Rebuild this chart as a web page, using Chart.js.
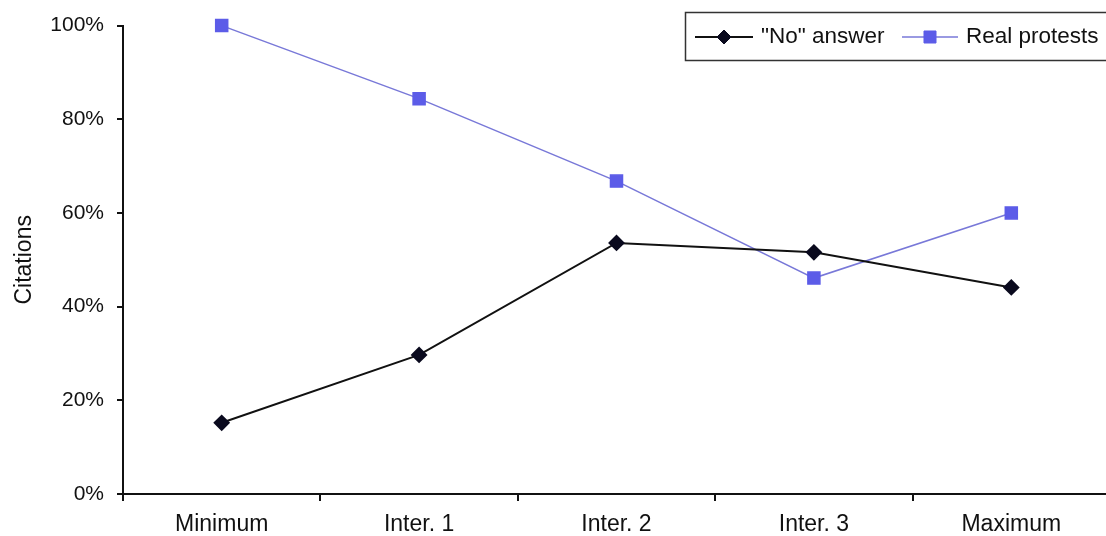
<!DOCTYPE html>
<html>
<head>
<meta charset="utf-8">
<script src="https://cdn.jsdelivr.net/npm/chart.js@4.4.1/dist/chart.umd.min.js"></script>
<style>
  html, body { margin: 0; padding: 0; background: #fff; overflow: hidden; }
  #wrap { width: 1120px; height: 536px; }
</style>
</head>
<body>
<div id="wrap"><canvas id="citeChart" width="1120" height="536"></canvas></div>
<script>
const categories = ['Minimum', 'Inter. 1', 'Inter. 2', 'Inter. 3', 'Maximum'];
const noAnswer = [15.2, 29.7, 53.6, 51.6, 44.1];
const realProtests = [100, 84.4, 66.8, 46.1, 60.0];
const yTicks = [0, 20, 40, 60, 80, 100];

const FONT = 'Liberation Sans, Arial, sans-serif';

// legend box drawn by hand: line sample with the marker in its middle
const boxLegend = {
  id: 'boxLegend',
  afterDraw(chart) {
    const ctx = chart.ctx;
    ctx.save();
    ctx.strokeStyle = '#333';
    ctx.lineWidth = 1.5;
    ctx.strokeRect(685.5, 12.5, 440, 48);
    ctx.font = '22.5px ' + FONT;
    ctx.textBaseline = 'middle';
    const y = 37;
    const items = [{ x0: 695, x1: 753 }, { x0: 902, x1: 958 }];
    items.forEach((it, i) => {
      const ds = chart.data.datasets[i];
      ctx.strokeStyle = ds.borderColor;
      ctx.lineWidth = ds.borderWidth;
      ctx.beginPath();
      ctx.moveTo(it.x0, y);
      ctx.lineTo(it.x1, y);
      ctx.stroke();
      ctx.fillStyle = ds.pointBackgroundColor;
      ctx.strokeStyle = ds.pointBorderColor;
      ctx.lineWidth = 1;
      Chart.helpers.drawPoint(ctx, {
        pointStyle: ds.pointStyle,
        radius: ds.pointRadius,
        borderWidth: 1
      }, (it.x0 + it.x1) / 2, y);
      ctx.fillStyle = '#111';
      ctx.fillText(ds.label, it.x1 + 8, y);
    });
    ctx.restore();
  }
};

new Chart(document.getElementById('citeChart'), {
  type: 'line',
  data: {
    labels: categories,
    datasets: [{
      label: '"No" answer',
      data: noAnswer,
      borderColor: '#111111',
      borderWidth: 2,
      pointStyle: 'rectRot',
      pointRadius: 7,
      pointBackgroundColor: '#0a0a1e',
      pointBorderColor: '#0a0a1e',
      tension: 0,
      clip: false
    }, {
      label: 'Real protests',
      data: realProtests,
      borderColor: '#7878d8',
      borderWidth: 1.5,
      pointStyle: 'rect',
      pointRadius: 8.5,
      pointBackgroundColor: '#5c5ce8',
      pointBorderColor: '#5c5ce8',
      tension: 0,
      clip: false
    }]
  },
  options: {
    responsive: false,
    animation: false,
    layout: { padding: { top: 24, right: 7, left: 0, bottom: 0 } },
    plugins: {
      legend: { display: false },
      tooltip: { enabled: false }
    },
    scales: {
      x: {
        offset: true,
        grid: { offset: true, drawOnChartArea: false, drawTicks: true, tickLength: 7, color: '#111', lineWidth: 2 },
        border: { color: '#111', width: 2 },
        ticks: { color: '#111', font: { family: FONT, size: 23 }, padding: 10 },
        afterFit(scale) { scale.height = 42; }
      },
      y: {
        min: 0,
        max: 100,
        afterBuildTicks(scale) { scale.ticks = yTicks.map(v => ({ value: v })); },
        grid: { drawOnChartArea: false, drawTicks: true, tickLength: 6, color: '#111', lineWidth: 2 },
        border: { color: '#111', width: 2 },
        ticks: { color: '#111', font: { family: FONT, size: 21 }, padding: 13, callback: v => v + '%' },
        title: { display: true, text: 'Citations', color: '#111', font: { family: FONT, size: 23 }, padding: { top: 11, bottom: 0 } },
        afterFit(scale) { scale.width = 123; }
      }
    }
  },
  plugins: [boxLegend]
});
</script>
</body>
</html>
